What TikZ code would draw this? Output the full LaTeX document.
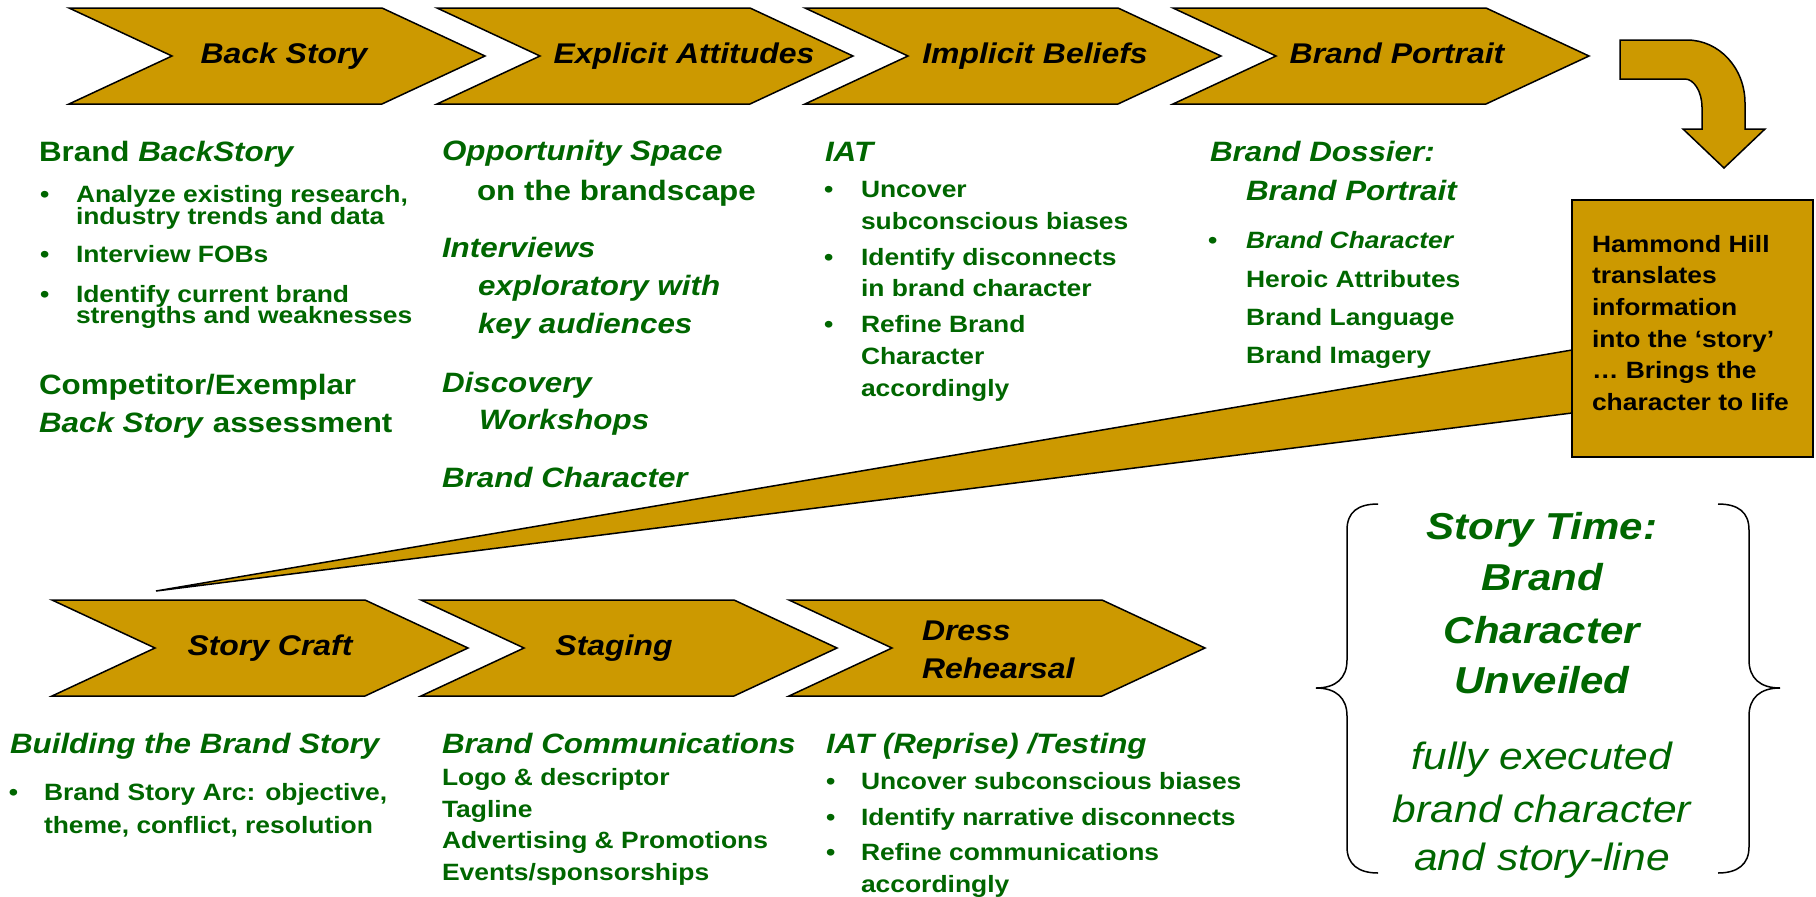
\documentclass[tikz,border=0pt]{standalone}
\usepackage{fontspec}
\setmainfont{Liberation Sans}[FakeStretch=1.12]
\definecolor{gold}{RGB}{204,153,0}
\definecolor{tgreen}{RGB}{0,102,0}
\tikzset{
  shapefill/.style={fill=gold, draw=black, line width=1.5pt, line join=miter},
  chev/.pic={\path[shapefill] (0,0) -- (313,0) -- (416,48) -- (313,96) -- (0,96) -- (103,48) -- cycle;},
  every node/.style={inner sep=0pt, outer sep=0pt},
  chevlabel/.style={anchor=base, text=black, font=\bfseries\itshape\fontsize{28.5}{32}\selectfont},
  headit/.style={anchor=base west, text=tgreen, font=\bfseries\itshape\fontsize{28}{32}\selectfont},
  headup/.style={anchor=base west, text=tgreen, font=\bfseries\fontsize{28}{32}\selectfont},
  bodytxt/.style={anchor=base west, text=tgreen, font=\bfseries\fontsize{23.6}{28}\selectfont},
  bodyit/.style={anchor=base west, text=tgreen, font=\bfseries\itshape\fontsize{23.6}{28}\selectfont},
  boxtxt/.style={anchor=base west, text=black, font=\bfseries\fontsize{23.6}{28}\selectfont},
  bigbi/.style={anchor=base, text=tgreen, font=\bfseries\itshape\fontsize{37.5}{42}\selectfont},
  bigi/.style={anchor=base, text=tgreen, font=\itshape\fontsize{38}{42}\selectfont},
  bracestyle/.style={draw=black, line width=1.5pt},
}
\begin{document}
\begin{tikzpicture}[x=1pt, y=-1pt]
\useasboundingbox (0,0) rectangle (1816,897);

% top chevrons
\pic at (69,8) {chev};
\pic at (437,8) {chev};
\pic at (805,8) {chev};
\pic at (1173,8) {chev};
\node[chevlabel] (lb1) at (284,63) {Back Story};
\node[chevlabel] (lb2) at (684,63) {Explicit Attitudes};
\node[chevlabel] (lb3) at (1035,63) {Implicit Beliefs};
\node[chevlabel] (lb4) at (1397,63) {Brand Portrait};

% bent arrow
\path[shapefill] (1620,40) -- (1687,40) .. controls (1719,40) and (1745,68) .. (1745,103)
  -- (1745,129) -- (1765,129) -- (1724,168) -- (1683,129) -- (1702,129) -- (1702,107)
  .. controls (1702,92) and (1694,79) .. (1685,79) -- (1620,79) -- cycle;

% callout wedge and box
\coordinate (tip) at (156,591);
\path[shapefill] (tip) -- (1572,350) -- (1572,413) -- cycle;
\node[shapefill, anchor=north west, minimum width=241pt, minimum height=257pt] (hh) at (1572,200) {};
\node[boxtxt] (hh1) at (1592,252) {Hammond Hill};
\node[boxtxt] (hh2) at (1592,283) {translates};
\node[boxtxt] (hh3) at (1592,315) {information};
\node[boxtxt] (hh4) at (1592,347) {into the ‘story’};
\node[boxtxt] (hh5) at (1592,378) {… Brings the};
\node[boxtxt] (hh6) at (1592,410) {character to life};

% column 1
\node[headup] (c1h) at (39,161) {Brand \textit{BackStory}};
\node[bodytxt] (c1b1) at (40,202) {•};
\node[bodytxt] (c1t1) at (76,202) {Analyze existing research,};
\node[bodytxt] (c1t1b) at (76,224) {industry trends and data};
\node[bodytxt] (c1b2) at (40,262) {•};
\node[bodytxt] (c1t2) at (76,262) {Interview FOBs};
\node[bodytxt] (c1b3) at (40,302) {•};
\node[bodytxt] (c1t3) at (76,302) {Identify current brand};
\node[bodytxt] (c1t3b) at (76,323) {strengths and weaknesses};
\node[headup] (c1h2) at (39,394) {Competitor/Exemplar};
\node[headup] (c1h3) at (39,432) {\textit{Back Story} assessment};

% column 2
\node[headit] (c2a) at (442,160) {Opportunity Space};
\node[headup] (c2b) at (477,200) {on the brandscape};
\node[headit] (c2c) at (442,257) {Interviews};
\node[headit] (c2d) at (478,295) {exploratory with};
\node[headit] (c2e) at (478,333) {key audiences};
\node[headit] (c2f) at (442,392) {Discovery};
\node[headit] (c2g) at (479,429) {Workshops};
\node[headit] (c2h) at (442,487) {Brand Character};

% column 3
\node[headit] (c3h) at (825,161) {IAT};
\node[bodytxt] (c3b1) at (824,197) {•};
\node[bodytxt] (c3t1a) at (861,197) {Uncover};
\node[bodytxt] (c3t1b) at (861,229) {subconscious biases};
\node[bodytxt] (c3b2) at (824,265) {•};
\node[bodytxt] (c3t2a) at (861,265) {Identify disconnects};
\node[bodytxt] (c3t2b) at (861,296) {in brand character};
\node[bodytxt] (c3b3) at (824,332) {•};
\node[bodytxt] (c3t3a) at (861,332) {Refine Brand};
\node[bodytxt] (c3t3b) at (861,364) {Character};
\node[bodytxt] (c3t3c) at (861,396) {accordingly};

% column 4
\node[headit] (c4a) at (1210,161) {Brand Dossier:};
\node[headit] (c4b) at (1246,200) {Brand Portrait};
\node[bodytxt] (c4bul) at (1208,248) {•};
\node[bodyit] (c4c) at (1246,248) {Brand Character};
\node[bodytxt] (c4d) at (1246,287) {Heroic Attributes};
\node[bodytxt] (c4e) at (1246,325) {Brand Language};
\node[bodytxt] (c4f) at (1246,363) {Brand Imagery};

% bottom chevrons
\pic at (52,600) {chev};
\pic at (421,600) {chev};
\pic at (789,600) {chev};
\node[chevlabel] (lb5) at (270,655) {Story Craft};
\node[chevlabel] (lb6) at (614,655) {Staging};
\node[chevlabel, anchor=base west] (lb7a) at (922,640) {Dress};
\node[chevlabel, anchor=base west] (lb7b) at (922,678) {Rehearsal};

% bottom column 1
\node[headit] (d1h) at (10,753) {Building the Brand Story};
\node[bodytxt] (d1b) at (9,800) {•};
\node[bodytxt] (d1t1) at (44,800) {Brand Story Arc: objective,};
\node[bodytxt] (d1t2) at (44,833) {theme, conflict, resolution};

% bottom column 2
\node[headit] (d2h) at (442,753) {Brand Communications};
\node[bodytxt] (d2a) at (442,785) {Logo \& descriptor};
\node[bodytxt] (d2b) at (442,817) {Tagline};
\node[bodytxt] (d2c) at (442,848) {Advertising \& Promotions};
\node[bodytxt] (d2d) at (442,880) {Events/sponsorships};

% bottom column 3
\node[headit] (d3h) at (826,753) {IAT (Reprise) /Testing};
\node[bodytxt] (d3b1) at (826,789) {•};
\node[bodytxt] (d3t1) at (861,789) {Uncover subconscious biases};
\node[bodytxt] (d3b2) at (826,825) {•};
\node[bodytxt] (d3t2) at (861,825) {Identify narrative disconnects};
\node[bodytxt] (d3b3) at (826,860) {•};
\node[bodytxt] (d3t3) at (861,860) {Refine communications};
\node[bodytxt] (d3t4) at (861,892) {accordingly};

% braces
\draw[bracestyle] (1378,504) .. controls (1358,504) and (1347,512) .. (1347,530) -- (1347,660)
  .. controls (1347,678) and (1336,688) .. (1316,688)
  .. controls (1336,688) and (1347,698) .. (1347,716) -- (1347,847)
  .. controls (1347,864) and (1358,873) .. (1378,873);
\draw[bracestyle] (1718,504) .. controls (1738,504) and (1749,512) .. (1749,530) -- (1749,660)
  .. controls (1749,678) and (1760,688) .. (1780,688)
  .. controls (1760,688) and (1749,698) .. (1749,716) -- (1749,847)
  .. controls (1749,864) and (1738,873) .. (1718,873);

% story time text
\node[bigbi] (st1) at (1542,539) {Story Time:};
\node[bigbi] (st2) at (1542,590) {Brand};
\node[bigbi] (st3) at (1542,643) {Character};
\node[bigbi] (st4) at (1542,693) {Unveiled};
\node[bigi] (st5) at (1542,769) {fully executed};
\node[bigi] (st6) at (1542,822) {brand character};
\node[bigi] (st7) at (1542,870) {and story-line};
\end{tikzpicture}
\end{document}
